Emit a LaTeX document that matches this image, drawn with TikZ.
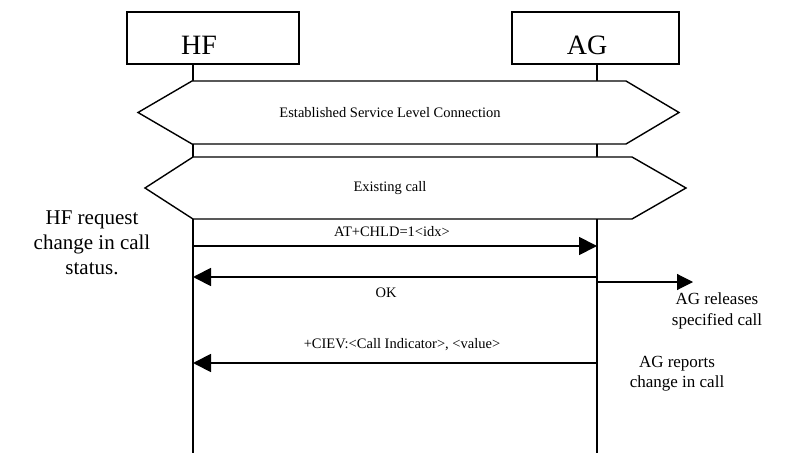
\documentclass[tikz,border=0pt]{standalone}
\usepackage{fontspec}
\setmainfont{Liberation Serif}
\usetikzlibrary{arrows.meta}

\tikzset{
  entity/.style={draw, line width=1.2pt, minimum width=172pt, minimum height=52pt},
  lifeline/.style={line width=1.8pt},
  hexa/.style={draw, fill=white, line width=1.4pt},
  msg/.style={line width=1.8pt, -{Triangle[length=18pt,width=18pt]}},
  msglabel/.style={font=\fontsize{14.5}{17}\selectfont, inner sep=0pt},
  note/.style={align=center, inner sep=0pt},
}

\begin{document}
\begin{tikzpicture}[x=1pt,y=-1pt]
  \useasboundingbox (0,0) rectangle (803,465);
  % entities
  \node[entity] (hf) at (213,38) {};
  \node[font=\fontsize{28}{32}\selectfont, inner sep=0pt] (hfname) at (199,45) {HF};
  \node[entity, minimum width=167pt] (ag) at (595.5,38) {};
  \node[font=\fontsize{28}{32}\selectfont, inner sep=0pt] (agname) at (587,45) {AG};
  % lifelines
  \coordinate (hfBot) at (193,453);
  \coordinate (agBot) at (597,453);
  \draw[lifeline] (hf.south -| hfBot) -- (hfBot);
  \draw[lifeline] (ag.south -| agBot) -- (agBot);
  % states
  \draw[hexa] (138,112.5) -- (192,81) -- (626,81) -- (679,112.5) -- (626,144) -- (192,144) -- cycle;
  \node[msglabel] (slc) at (390,113) {Established Service Level Connection};
  \draw[hexa] (145,188) -- (193,157) -- (632,157) -- (686,188) -- (632,219) -- (193,219) -- cycle;
  \node[msglabel] (call) at (390,188) {Existing call};
  % messages
  \coordinate (hfChld) at (193,246);
  \coordinate (agChld) at (597,246);
  \draw[msg] (hfChld) -- (agChld);
  \node[msglabel] (chld) at (392,232) {AT+CHLD=1<idx>};
  \coordinate (agOk) at (597,277);
  \coordinate (hfOk) at (193,277);
  \draw[msg] (agOk) -- (hfOk);
  \node[msglabel] (ok) at (386,293) {OK};
  \coordinate (agCiev) at (597,363);
  \coordinate (hfCiev) at (193,363);
  \draw[msg] (agCiev) -- (hfCiev);
  \node[msglabel] (ciev) at (402,345) {+CIEV:<Call Indicator>, <value>};
  % release
  \coordinate (agRel) at (597,282);
  \coordinate (relEnd) at (693,282);
  \draw[line width=1.1pt, -{Triangle[length=16pt,width=16pt]}] (agRel) -- (relEnd);
  % notes
  \node[note, font=\fontsize{21}{25}\selectfont] (hfnote) at (92,243) {HF request\\change in call\\status.};
  \node[note, font=\fontsize{17}{21}\selectfont] (relnote) at (717,311) {AG releases\\specified call};
  \node[note, font=\fontsize{17}{20}\selectfont] (repnote) at (677,374) {AG reports\\change in call};
\end{tikzpicture}
\end{document}
